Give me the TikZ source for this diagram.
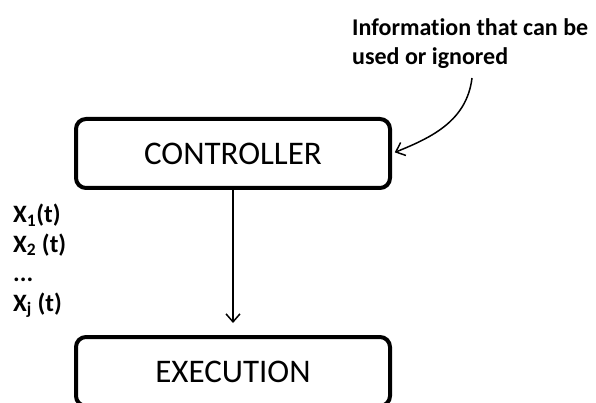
\documentclass[tikz,border=0pt]{standalone}
\usepackage{fontspec}
\setmainfont{Carlito}[Ligatures=NoCommon]
\usetikzlibrary{arrows.meta,positioning}

\tikzset{
  block/.style={draw,line width=4pt,rounded corners=10pt,minimum width=314pt,minimum height=69pt,
    font=\fontsize{33}{40}\selectfont,inner sep=0pt},
  sig/.style={line width=1.5pt,-{Straight Barb[length=8pt,width=14pt,line width=1.5pt]}},
  infotext/.style={align=left,inner sep=0pt,font=\bfseries\fontsize{24}{29}\selectfont},
  sigtext/.style={align=left,inner sep=0pt,font=\bfseries\fontsize{25}{29.5}\selectfont}
}

\begin{document}
\begin{tikzpicture}[x=1pt,y=-1pt]

\useasboundingbox (0,0) rectangle (596,403);

\node[block] (ctrl) at (233,153.5) {CONTROLLER};
\node[block] (exec) at (233,371.5) {EXECUTION};

\node[infotext,anchor=north west] (info) at (352,18) {Information that can be\\used or ignored};
\coordinate (infotail) at (472,78);

\node[sigtext,anchor=north west] (signals) at (13,204)
  {X\textsubscript{1}(t)\\X\textsubscript{2} (t)\\...\\X\textsubscript{j} (t)};

\draw[sig,shorten >=12pt] (ctrl.south) -- (exec.north);
\draw[sig,shorten >=3pt] (infotail) to[out=-97,in=22] (ctrl.east);

\end{tikzpicture}
\end{document}
